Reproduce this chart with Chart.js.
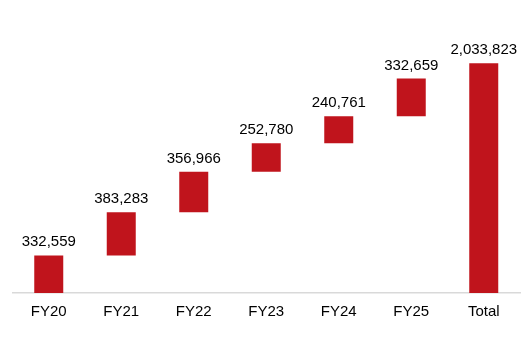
<!DOCTYPE html>
<html>
<head>
<meta charset="utf-8">
<script src="https://cdn.jsdelivr.net/npm/chart.js@4"></script>
<style>
html,body{margin:0;padding:0;background:#fff;}
#wrap{width:523px;height:341px;position:relative;}
</style>
</head>
<body>
<div id="wrap"><canvas id="c" width="523" height="341"></canvas></div>
<script>
const categories = ['FY20','FY21','FY22','FY23','FY24','FY25','Total'];
const increments = [332559, 383283, 356966, 252780, 240761, 332659];
const totalValue = 2033823;
const labelValues = [332559, 383283, 356966, 252780, 240761, 332659, 2033823];

// floating ranges built from the data
const ranges = [];
let run = 0;
for (const v of increments) { ranges.push([run, run + v]); run += v; }
ranges.push([0, totalValue]);

const labelPlugin = {
  id: 'barLabels',
  afterDatasetsDraw(chart) {
    const ctx = chart.ctx;
    const meta = chart.getDatasetMeta(0);
    ctx.save();
    ctx.font = '15px "Liberation Sans", Arial, sans-serif';
    ctx.fillStyle = '#000';
    ctx.textAlign = 'center';
    ctx.textBaseline = 'alphabetic';
    meta.data.forEach((bar, i) => {
      ctx.fillText(labelValues[i].toLocaleString('en-US'), bar.x, bar.y - 9);
    });
    ctx.restore();
  }
};

new Chart(document.getElementById('c'), {
  type: 'bar',
  data: {
    labels: categories,
    datasets: [{
      data: ranges,
      backgroundColor: '#C0141C',
      borderWidth: 0,
      barPercentage: 0.4,
      categoryPercentage: 1.0
    }]
  },
  options: {
    responsive: false,
    animation: false,
    devicePixelRatio: 1,
    layout: { padding: { left: 12.5, right: 3, top: 22, bottom: 10 } },
    plugins: { legend: { display: false }, tooltip: { enabled: false } },
    scales: {
      x: {
        grid: { display: false, drawTicks: false },
        border: { display: true, color: '#d9d9d9', width: 1.5 },
        ticks: { color: '#000', padding: 10, font: { family: '"Liberation Sans", Arial, sans-serif', size: 15 } }
      },
      y: {
        display: false,
        min: 0,
        max: 2400000
      }
    }
  },
  plugins: [labelPlugin]
});
</script>
</body>
</html>
